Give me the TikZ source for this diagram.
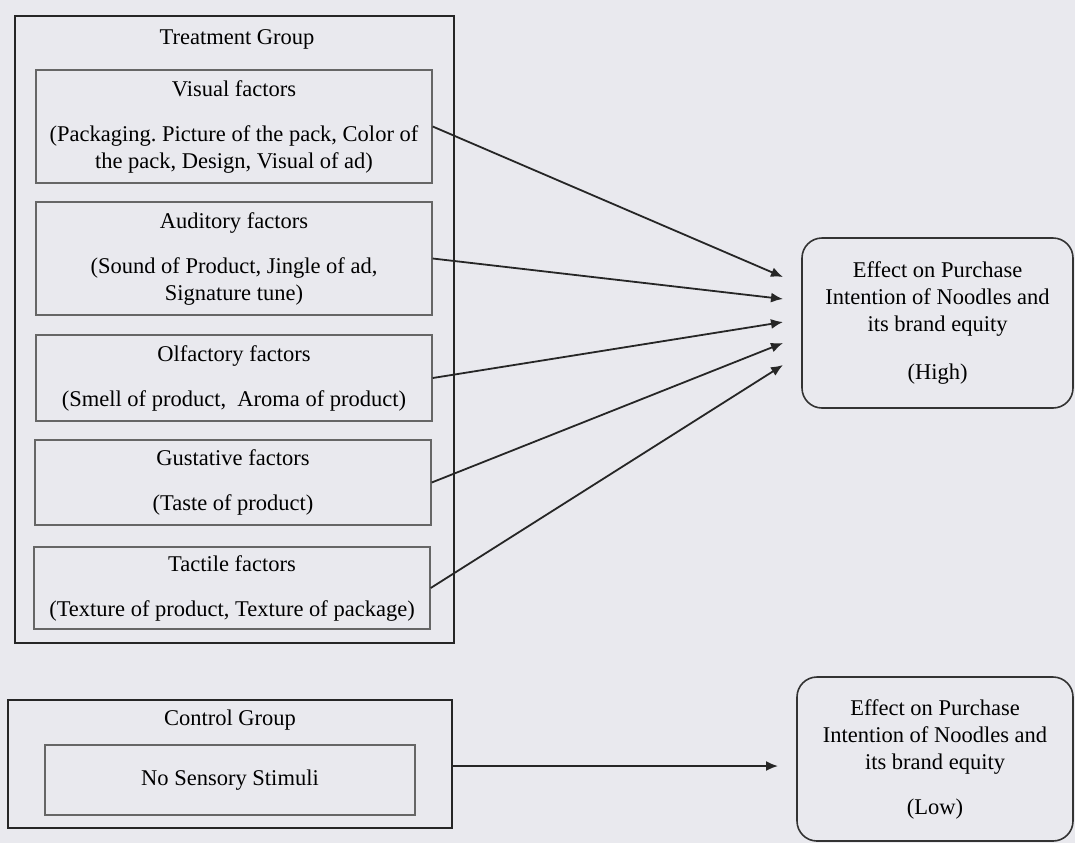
\documentclass[tikz,border=0pt]{standalone}
\usepackage{fontspec}
\setmainfont{Liberation Serif}
\usepackage{tikz}
\usetikzlibrary{positioning, arrows.meta, calc}
\definecolor{pagebg}{RGB}{233,233,238}
\tikzset{
  groupbox/.style={draw=black!85, line width=0.8pt, inner sep=0pt},
  factorbox/.style={draw=black!60, line width=0.7pt, fill=pagebg, align=center, minimum width=198pt, inner sep=0pt},
  effectbox/.style={draw=black!80, line width=0.8pt, rounded corners=10pt, align=center, inner sep=0pt},
  arr/.style={-{Latex[length=6pt, width=5pt]}, line width=0.9pt, black!85}
}
\frenchspacing

\begin{document}
\begin{tikzpicture}[x=0.5pt, y=-0.5pt, font=\fontsize{11.25}{13.5}\selectfont]
        \fill[pagebg] (0,0) rectangle (1075,843);
        \useasboundingbox (0,0) rectangle (1075,843);
        % treatment group
        \node[groupbox, minimum width=219.5pt, minimum height=313.5pt] (treat) at (234.5,329.5) {};
        \node (treattitle) at (237,39) {Treatment Group};
        \node[factorbox, minimum height=56.5pt] (vis) at (234,126.5)
             {Visual factors\\[9pt](Packaging. Picture of the pack, Color of\\the pack, Design, Visual of ad)};
        \node[factorbox, minimum height=56.5pt] (aud) at (234,258.5)
             {Auditory factors\\[9pt](Sound of Product, Jingle of ad,\\Signature tune)};
        \node[factorbox, minimum height=43pt] (olf) at (234,378)
             {Olfactory factors\\[9pt](Smell of product,\ \ Aroma of product)};
        \node[factorbox, minimum height=42.5pt] (gus) at (233,482.5)
             {Gustative factors\\[9pt](Taste of product)};
        \node[factorbox, minimum height=41pt] (tac) at (232,588)
             {Tactile factors\\[9pt](Texture of product, Texture of package)};
        % control group
        \node[groupbox, minimum width=222pt, minimum height=64pt] (ctrl) at (230,764) {};
        \node (ctrltitle) at (230,720) {Control Group};
        \node[factorbox, minimum width=185pt, minimum height=35pt] (nostim) at (230,780) {No Sensory Stimuli};
        % effects
        \node[effectbox, minimum width=135.5pt, minimum height=85pt] (high) at (937.5,323)
             {Effect on Purchase\\Intention of Noodles and\\its brand equity\\[10.5pt](High)};
        \node[effectbox, minimum width=138pt, minimum height=82pt] (low) at (935,759)
             {Effect on Purchase\\Intention of Noodles and\\its brand equity\\[9pt](Low)};
        \coordinate (h1) at (783,277);
        \coordinate (h2) at (783,299);
        \coordinate (h3) at (783,322);
        \coordinate (h4) at (783,343);
        \coordinate (h5) at (783,365);
        \coordinate (lowin) at (778,766);
        \draw[arr] (vis.east) -- (h1);
        \draw[arr] (aud.east) -- (h2);
        \draw[arr] (olf.east) -- (h3);
        \draw[arr] (gus.east) -- (h4);
        \draw[arr] (tac.east) -- (h5);
        \draw[arr] (ctrl.east |- lowin) -- (lowin);
\end{tikzpicture}
\end{document}
